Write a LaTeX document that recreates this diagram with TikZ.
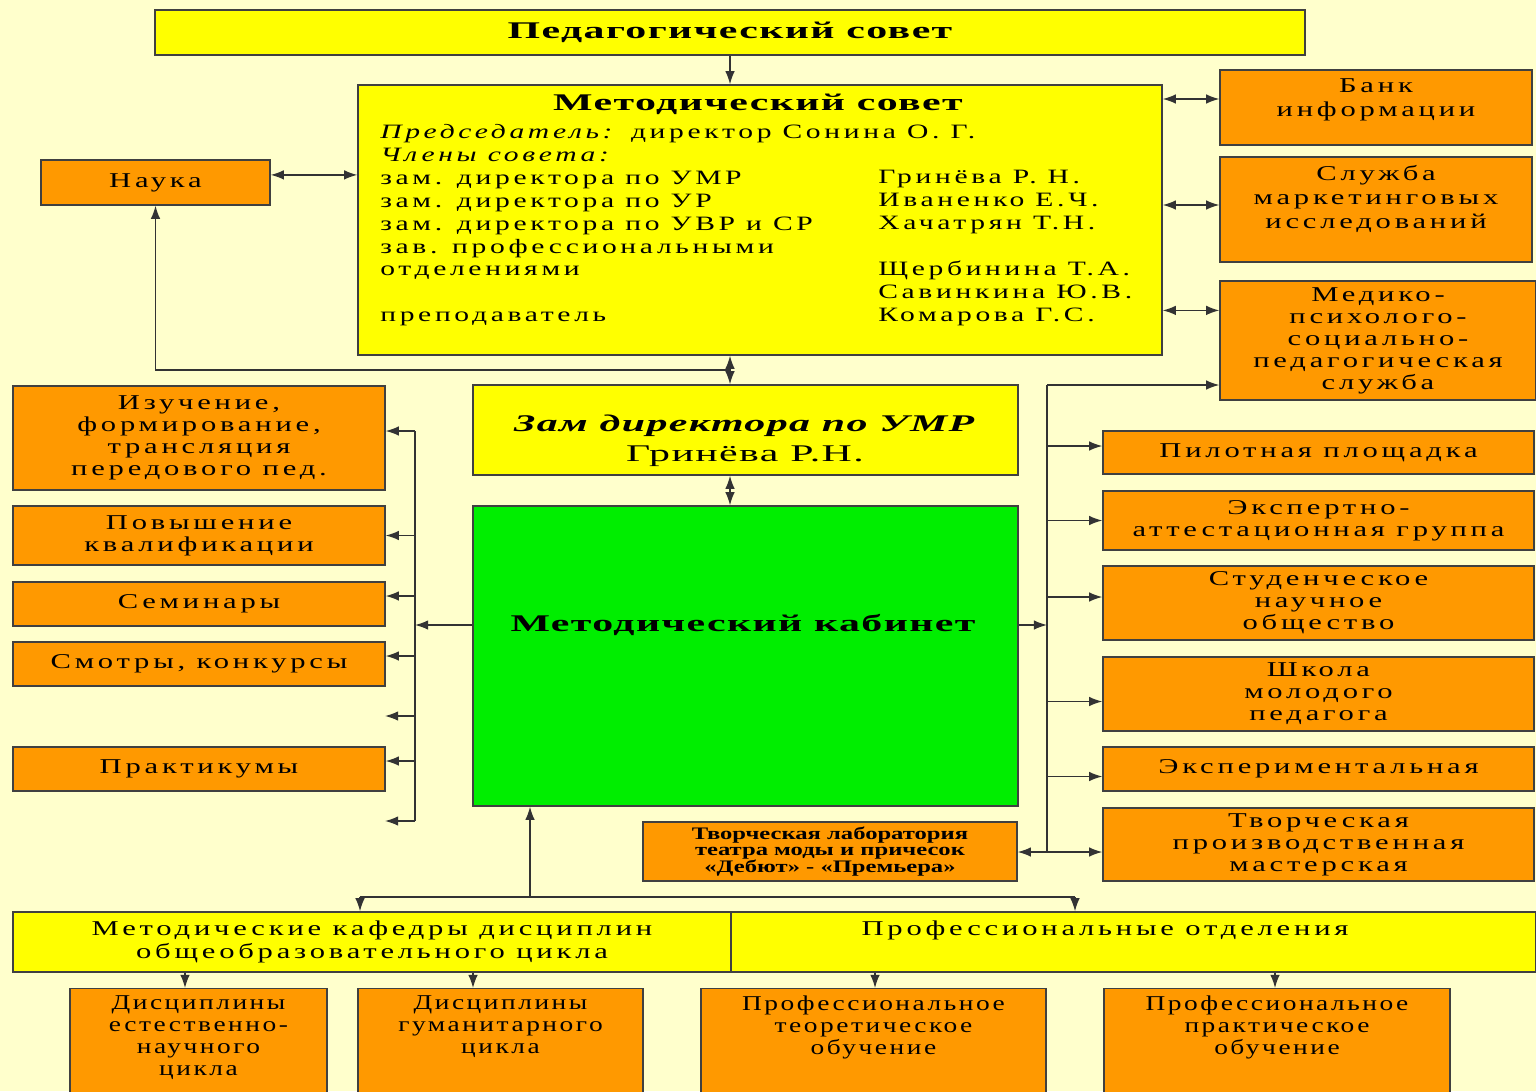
\documentclass[tikz,border=0pt]{standalone}
\usepackage{fontspec}
\setmainfont{Liberation Serif}
\newfontfamily\wsp[FakeStretch=1.45,LetterSpace=18]{Liberation Serif}
\newfontfamily\nsp[FakeStretch=1.3,LetterSpace=12]{Liberation Serif}
\newfontfamily\tsp[FakeStretch=1.75,LetterSpace=6]{Liberation Serif}
\newfontfamily\bsp[FakeStretch=1.4]{Liberation Serif}
\usetikzlibrary{arrows.meta,positioning,calc}
\definecolor{bgcream}{HTML}{FFFFCC}
\definecolor{orbox}{HTML}{FF9900}
\definecolor{ylbox}{HTML}{FFFF00}
\definecolor{grbox}{HTML}{00EE00}
\tikzset{
  sz/.style 2 args={minimum width=#1*0.025cm, minimum height=#2*0.025cm},
  box/.style={draw=black!75, line width=1pt, inner sep=1pt, align=center},
  obox/.style={box, fill=orbox, font=\wsp\fontsize{15}{15.6}\selectfont},
  ybox/.style={box, fill=ylbox},
  conn/.style={line width=1pt, draw=black!80},
  arr/.style={conn, -{Latex[length=3.3mm,width=2.4mm]}},
  darr/.style={conn, {Latex[length=3.3mm,width=2.4mm]}-{Latex[length=3.3mm,width=2.4mm]}},
  ttl/.style={font=\tsp\bfseries\fontsize{17}{20}\selectfont},
  otxt/.style={align=center, font=\wsp\fontsize{15}{16.8}\selectfont},
  btxt/.style={align=center, font=\nsp\fontsize{15}{15.6}\selectfont},
}

\begin{document}
\begin{tikzpicture}[x=0.025cm, y=-0.025cm]
  \useasboundingbox (0,0) rectangle (1536,1091);
  \fill[bgcream] (0,0) rectangle (1536,1091);
  \clip (0,0) rectangle (1536,1091);

  % councils
  \node[ybox, sz={1150}{45}, ttl] (ped) at (730,32.5) {Педагогический совет};
  \node[ybox, sz={804}{270}] (msov) at (760,220) {};
  \node[ttl] (msovt) at (758,104) {Методический совет};
  \node[anchor=north west, align=left, inner sep=0pt, font=\wsp\fontsize{14.5}{16.3}\selectfont] (msovl) at (380,124)
    {\textit{Председатель:} директор Сонина О. Г.\\
     \textit{Члены совета:}\\
     зам. директора по УМР\\
     зам. директора по УР\\
     зам. директора по УВР и СР\\
     зав. профессиональными\\
     отделениями\\
     \mbox{}\\
     преподаватель};
  \node[anchor=north west, align=left, inner sep=0pt, font=\wsp\fontsize{14.5}{16.3}\selectfont] (msovr) at (878,170)
    {Гринёва Р. Н.\\
     Иваненко Е.Ч.\\
     Хачатрян Т.Н.\\
     \mbox{}\\
     Щербинина Т.А.\\
     Савинкина Ю.В.\\
     Комарова Г.С.};
  \node[obox, sz={229}{45}] (nauka) at (155.5,182.5) {Наука};

  % right column
  \node[obox, sz={312}{75}] (bank) at (1376,107.5) {};
  \node[otxt] (bankt) at (1376,100) {Банк\\информации};
  \node[obox, sz={312}{105}] (serv) at (1376,209.5) {};
  \node[otxt] (servt) at (1376,199) {Служба\\маркетинговых\\исследований};
  \node[obox, sz={316}{119}] (med) at (1378,340.5) {Медико-\\психолого-\\социально-\\педагогическая\\служба};

  % centre
  \node[ybox, sz={545}{90}] (zam) at (745.5,430) {};
  \node[align=center, font=\tsp\fontsize{17}{21.3}\selectfont] (zamt) at (745,441)
    {\textbf{\textit{Зам директора по УМР}}\\Гринёва Р.Н.};
  \node[box, fill=grbox, sz={545}{300}] (kab) at (745.5,656) {};
  \node[ttl] (kabt) at (743,625) {Методический кабинет};
  \node[box, fill=orbox, sz={374}{59}, font=\bsp\bfseries\fontsize{12.5}{11.3}\selectfont] (tvlab) at (830,851.5)
    {Творческая лаборатория\\театра моды и причесок\\«Дебют» - «Премьера»};

  % left column
  \node[obox, sz={372}{104}] (izuch) at (199,438) {Изучение,\\формирование,\\трансляция\\передового пед.};
  \node[obox, sz={372}{59}] (pov) at (199,535.5) {Повышение\\квалификации};
  \node[obox, sz={372}{44}] (sem) at (199,604) {Семинары};
  \node[obox, sz={372}{44}] (smotr) at (199,664) {Смотры, конкурсы};
  \node[obox, sz={372}{44}] (prakt) at (199,769) {Практикумы};

  % right bus boxes
  \node[obox, sz={431}{43}] (pilot) at (1318.5,452.5) {Пилотная площадка};
  \node[obox, sz={431}{59}] (expert) at (1318.5,520.5) {Экспертно-\\аттестационная группа};
  \node[obox, sz={431}{74}] (stud) at (1318.5,603) {Студенческое\\научное\\общество};
  \node[obox, sz={431}{74}] (shkola) at (1318.5,694) {Школа\\молодого\\педагога};
  \node[obox, sz={431}{44}] (eksp) at (1318.5,769) {Экспериментальная};
  \node[obox, sz={431}{73}] (tvorm) at (1318.5,844.5) {Творческая\\производственная\\мастерская};

  % bottom
  \node[ybox, sz={718}{60}, font=\wsp\fontsize{15}{16.5}\selectfont] (kaf) at (372,942)
    {Методические кафедры дисциплин\\общеобразовательного цикла};
  \node[ybox, sz={805}{60}] (prof) at (1133.5,942) {};
  \node[font=\wsp\fontsize{15}{16.5}\selectfont] (proft) at (1105,930) {Профессиональные отделения};
  \node[obox, sz={257}{115}, anchor=north] (dis1) at (198.5,988) {};
  \node[below=2pt of dis1.north, btxt] (dis1t) {Дисциплины\\естественно-\\научного\\цикла};
  \node[obox, sz={285}{115}, anchor=north] (dis2) at (500.5,988) {};
  \node[below=2pt of dis2.north, btxt] (dis2t) {Дисциплины\\гуманитарного\\цикла};
  \node[obox, sz={345}{115}, anchor=north] (pto) at (873.5,988) {};
  \node[below=2pt of pto.north, btxt] (ptot) {Профессиональное\\теоретическое\\обучение};
  \node[obox, sz={346}{115}, anchor=north] (ppo) at (1277,988) {};
  \node[below=2pt of ppo.north, btxt] (ppot) {Профессиональное\\практическое\\обучение};

  % connectors
  \coordinate (nj) at (730,370);
  \coordinate (medin) at ($(med.north west)!0.25!(med.south west)$);
  \coordinate (rbtop) at (1047,385);
  \coordinate (rbbot) at (1047,852);
  \coordinate (lbtop) at (415,431);
  \coordinate (lbbot) at (415,821);
  \coordinate (free1) at (385,716);
  \coordinate (free2) at (385,821);
  \coordinate (kl) at (360,897);
  \coordinate (kj) at (530,897);
  \coordinate (kr) at (1075,897);

  \draw[arr] (ped.south) -- (ped.south |- msov.north);
  \draw[darr] (ped.south |- msov.south) -- (ped.south |- zam.north);
  \draw[darr] (ped.south |- zam.south) -- (ped.south |- kab.north);
  \coordinate (nin) at ([yshift=0.19cm]nauka.east);
  \draw[darr] (nin) -- (nin -| msov.west);
  \draw[arr] (nj) -| (nauka.south);

  \foreach \b/\dy in {bank/8.5,serv/4.5} {
    \coordinate (tip) at ([yshift=\dy*0.025cm]\b.west);
    \draw[darr] (msov.east |- tip) -- (tip);
  }
  \draw[darr] (msov.east |- medin) -- (medin);

  \draw[conn] (rbtop) -- (rbbot);
  \draw[arr] (rbtop) -- (rbtop -| med.west);
  \foreach \b/\dy in {pilot/6.5,expert/0,stud/6,shkola/-7.5,eksp/-7.5} {
    \coordinate (tip) at ([yshift=\dy*0.025cm]\b.west);
    \draw[arr] (rbtop |- tip) -- (tip);
  }
  \draw[arr] (rbbot) -- (rbbot -| tvorm.west);
  \draw[arr] (rbbot) -- (rbbot -| tvlab.east);
  \draw[arr] (kabt -| kab.east) -- (kabt -| rbtop);

  \draw[conn] (lbtop) -- (lbbot);
  \foreach \b/\dy in {izuch/7,pov/0,sem/8,smotr/8,prakt/8} {
    \coordinate (tip) at ([yshift=\dy*0.025cm]\b.east);
    \draw[arr] (lbtop |- tip) -- (tip);
  }
  \draw[arr] (lbtop |- free1) -- (free1);
  \draw[arr] (lbbot) -- (free2);
  \draw[arr] (kabt -| kab.west) -- (kabt -| lbtop);

  \draw[arr] (kj) -- (kj |- kab.south);
  \draw[conn] (kl) -- (kr);
  \draw[arr] (kl) -- (kl |- kaf.north);
  \draw[arr] (kr) -- (kr |- prof.north);
  \foreach \b/\t/\dx in {dis1/kaf/-13.5,dis2/kaf/-27.5,pto/prof/1.5,ppo/prof/-2} {
    \coordinate (tip) at ([xshift=\dx*0.025cm]\b.north);
    \draw[arr] (tip |- \t.south) -- (tip);
  }
\end{tikzpicture}
\end{document}
